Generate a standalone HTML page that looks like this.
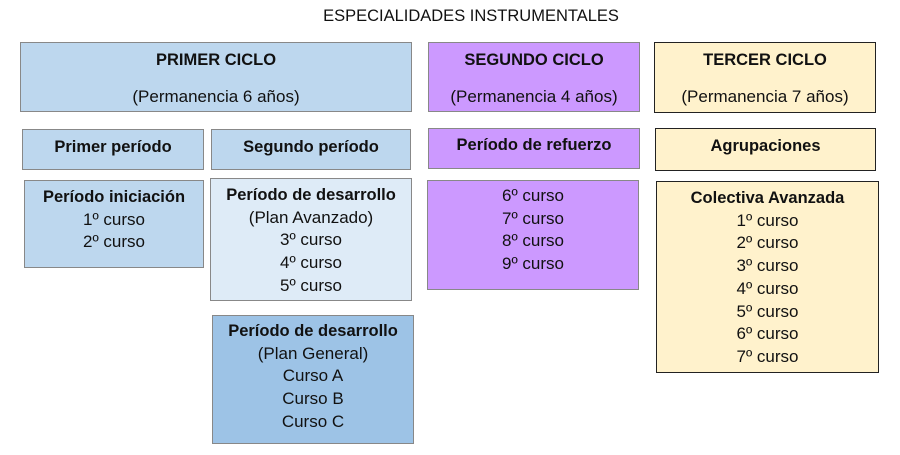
<!DOCTYPE html>
<html><head><meta charset="utf-8"><style>
body{margin:0;width:900px;height:455px;background:#fff;position:relative;overflow:hidden;font-family:"Liberation Sans","DejaVu Sans",sans-serif;color:#111;}
.b{position:absolute;box-sizing:border-box;border:1px solid #888;}
.t{position:absolute;left:0;right:0;text-align:center;font-size:17px;line-height:22.7px;white-space:nowrap;}
.t b{font-size:16.5px}
.k{border-color:#222;}
.blue{background:#bdd7ee}.lb{background:#deebf7}.db{background:#9dc3e6}.pu{background:#cc99ff}.ye{background:#fff2cc}
</style></head><body>
<div class="t" style="left:0;right:0;top:5px;padding-left:42px;font-size:16.5px;">ESPECIALIDADES INSTRUMENTALES</div>

<div class="b blue" style="left:20px;top:42px;width:392px;height:70px"><div class="t" style="top:6px"><b>PRIMER CICLO</b></div><div class="t" style="top:43px">(Permanencia 6 años)</div></div>
<div class="b pu" style="left:428px;top:42px;width:212px;height:70px"><div class="t" style="top:6px"><b>SEGUNDO CICLO</b></div><div class="t" style="top:43px">(Permanencia 4 años)</div></div>
<div class="b k ye" style="left:654px;top:42px;width:222px;height:71px"><div class="t" style="top:6px"><b>TERCER CICLO</b></div><div class="t" style="top:43px">(Permanencia 7 años)</div></div>

<div class="b blue" style="left:22px;top:129px;width:182px;height:41px"><div class="t" style="top:6px"><b>Primer período</b></div></div>
<div class="b blue" style="left:211px;top:129px;width:200px;height:41px"><div class="t" style="top:6px"><b>Segundo período</b></div></div>
<div class="b pu" style="left:428px;top:128px;width:212px;height:41px"><div class="t" style="top:5px"><b>Período de refuerzo</b></div></div>
<div class="b k ye" style="left:655px;top:128px;width:221px;height:43px"><div class="t" style="top:6px"><b>Agrupaciones</b></div></div>

<div class="b blue" style="left:24px;top:180px;width:180px;height:88px"><div class="t" style="top:5px"><b>Período iniciación</b><br>1º curso<br>2º curso</div></div>
<div class="b lb" style="left:210px;top:178px;width:202px;height:123px"><div class="t" style="top:5px"><b>Período de desarrollo</b><br>(Plan Avanzado)<br>3º curso<br>4º curso<br>5º curso</div></div>
<div class="b pu" style="left:427px;top:180px;width:212px;height:110px"><div class="t" style="top:4px">6º curso<br>7º curso<br>8º curso<br>9º curso</div></div>
<div class="b k ye" style="left:656px;top:181px;width:223px;height:192px"><div class="t" style="top:5px"><b>Colectiva Avanzada</b><br>1º curso<br>2º curso<br>3º curso<br>4º curso<br>5º curso<br>6º curso<br>7º curso</div></div>

<div class="b db" style="left:212px;top:315px;width:202px;height:129px"><div class="t" style="top:4px"><b>Período de desarrollo</b><br>(Plan General)<br>Curso A<br>Curso B<br>Curso C</div></div>
</body></html>
